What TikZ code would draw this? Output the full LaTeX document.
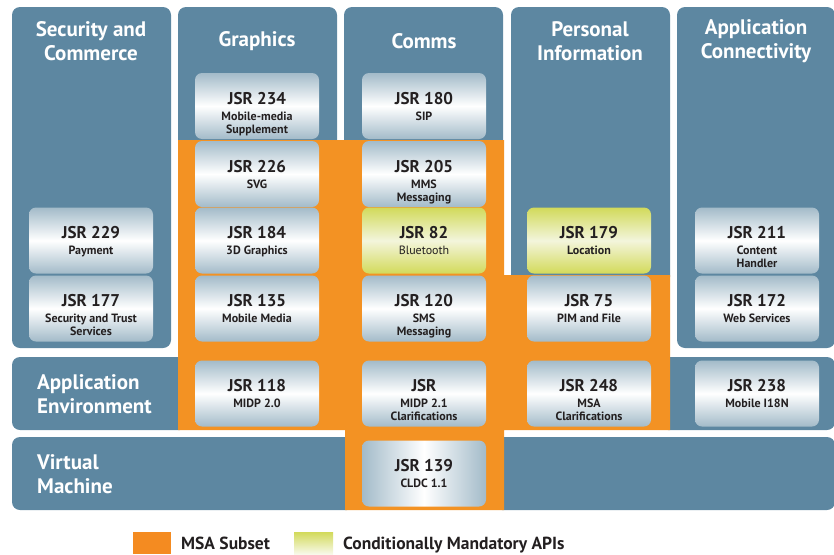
\documentclass[tikz,border=0pt]{standalone}
\usepackage{fontspec}
\setmainfont{PT Sans}
\usepackage{xcolor}
\usepackage{tikz}
\definecolor{stackblue}{HTML}{5D87A1}
\definecolor{msaorange}{HTML}{F39223}
\definecolor{silvr}{HTML}{A3BBC9}
\definecolor{lime}{HTML}{D2DA5A}
\definecolor{limelight}{HTML}{F3F5DC}
\definecolor{ink}{HTML}{231F20}

\begin{document}
\begin{tikzpicture}[x=1pt,y=-1pt,
  jsr/.style={rectangle,rounded corners=7,minimum width=124,minimum height=66,inner sep=0,
    top color=silvr,bottom color=silvr,middle color=white},
  cma/.style={jsr,top color=lime,bottom color=lime,middle color=limelight},
  txt/.style={anchor=north,align=center,inner sep=0,text=ink,
    font=\bfseries\fontsize{12}{13}\selectfont},
  title/.style={align=center,inner sep=0,text=white,font=\bfseries\fontsize{21}{24}\selectfont},
  legend/.style={anchor=base west,inner sep=0,text=ink,font=\bfseries\fontsize{17.5}{20}\selectfont}]
\useasboundingbox (0,0) rectangle (834,554);
% columns and layers
\fill[stackblue,rounded corners=8](12,7) rectangle (171,348);
\fill[stackblue,rounded corners=8](178,7) rectangle (337,150);
\fill[stackblue,rounded corners=8](344,7) rectangle (503,150);
\fill[stackblue,rounded corners=8](511,7) rectangle (670,285);
\fill[stackblue,rounded corners=8](677,7) rectangle (835,348);
\fill[stackblue,rounded corners=8](12,357) rectangle (188,430);
\fill[stackblue,rounded corners=8](660,357) rectangle (835,430);
\fill[stackblue,rounded corners=8](12,437) rectangle (355,510);
\fill[stackblue,rounded corners=8](494,437) rectangle (835,510);
% MSA subset
\fill[msaorange](178,140)--(504,140)--(504,275)--(670,275)--(670,430)--(504,430)
  --(504,510)--(345,510)--(345,430)--(178,430)--cycle;
% titles
\node[title] (sec) at (91,41) {Security and\\Commerce};
\node[title] (gfx) at (257,41) {Graphics};
\node[title] (com) at (424,41) {Comms};
\node[title] (pim) at (590,41) {Personal\\Information};
\node[title] (con) at (756,41) {Application\\Connectivity};
\node[title,anchor=west,align=left] (env) at (37,394) {Application\\Environment};
\node[title,anchor=west,align=left] (vm) at (37,474) {Virtual\\Machine};
% security and commerce
\node[jsr] (j229) at (91,240.5) {};
\node[txt] (t229) at ([yshift=-19pt]j229.north) {{\fontsize{17}{13}\selectfont JSR 229}\\[3pt]Payment};
\node[jsr] (j177) at (91,308.5) {};
\node[txt] (t177) at ([yshift=-19pt]j177.north) {{\fontsize{17}{13}\selectfont JSR 177}\\[3pt]Security and Trust\\Services};
% graphics
\node[jsr] (j234) at (257,106) {};
\node[txt] (t234) at ([yshift=-19pt]j234.north) {{\fontsize{17}{13}\selectfont JSR 234}\\[3pt]Mobile-media\\Supplement};
\node[jsr] (j226) at (257,174) {};
\node[txt] (t226) at ([yshift=-19pt]j226.north) {{\fontsize{17}{13}\selectfont JSR 226}\\[3pt]SVG};
\node[jsr] (j184) at (257,240.5) {};
\node[txt] (t184) at ([yshift=-19pt]j184.north) {{\fontsize{17}{13}\selectfont JSR 184}\\[3pt]3D Graphics};
\node[jsr] (j135) at (257,308.5) {};
\node[txt] (t135) at ([yshift=-19pt]j135.north) {{\fontsize{17}{13}\selectfont JSR 135}\\[3pt]Mobile Media};
\node[jsr] (j118) at (257,393.5) {};
\node[txt] (t118) at ([yshift=-19pt]j118.north) {{\fontsize{17}{13}\selectfont JSR 118}\\[3pt]MIDP 2.0};
% comms
\node[jsr] (j180) at (424,106) {};
\node[txt] (t180) at ([yshift=-19pt]j180.north) {{\fontsize{17}{13}\selectfont JSR 180}\\[3pt]SIP};
\node[jsr] (j205) at (424,174) {};
\node[txt] (t205) at ([yshift=-19pt]j205.north) {{\fontsize{17}{13}\selectfont JSR 205}\\[3pt]MMS\\Messaging};
\node[cma] (j82) at (424,240.5) {};
\node[txt,font=\fontsize{12}{13}\selectfont] (t82) at ([yshift=-19pt]j82.north) {{\bfseries\fontsize{17}{13}\selectfont JSR 82}\\[3pt]Bluetooth};
\node[jsr] (j120) at (424,308.5) {};
\node[txt] (t120) at ([yshift=-19pt]j120.north) {{\fontsize{17}{13}\selectfont JSR 120}\\[3pt]SMS\\Messaging};
\node[jsr] (jmidp) at (424,393.5) {};
\node[txt] (tmidp) at ([yshift=-19pt]jmidp.north) {{\fontsize{17}{13}\selectfont JSR}\\[3pt]MIDP 2.1\\Clarifications};
\node[jsr,left color=silvr,right color=silvr,middle color=white] (j139) at (424,473.5) {};
\node[txt] (t139) at ([yshift=-19pt]j139.north) {{\fontsize{17}{13}\selectfont JSR 139}\\[3pt]CLDC 1.1};
% personal information
\node[cma] (j179) at (589,240.5) {};
\node[txt] (t179) at ([yshift=-19pt]j179.north) {{\fontsize{17}{13}\selectfont JSR 179}\\[3pt]Location};
\node[jsr] (j75) at (589,308.5) {};
\node[txt] (t75) at ([yshift=-19pt]j75.north) {{\fontsize{17}{13}\selectfont JSR 75}\\[3pt]PIM and File};
\node[jsr] (j248) at (589,393.5) {};
\node[txt] (t248) at ([yshift=-19pt]j248.north) {{\fontsize{17}{13}\selectfont JSR 248}\\[3pt]MSA\\Clarifications};
% application connectivity
\node[jsr] (j211) at (757,240.5) {};
\node[txt] (t211) at ([yshift=-19pt]j211.north) {{\fontsize{17}{13}\selectfont JSR 211}\\[3pt]Content\\Handler};
\node[jsr] (j172) at (757,308.5) {};
\node[txt] (t172) at ([yshift=-19pt]j172.north) {{\fontsize{17}{13}\selectfont JSR 172}\\[3pt]Web Services};
\node[jsr] (j238) at (757,393.5) {};
\node[txt] (t238) at ([yshift=-19pt]j238.north) {{\fontsize{17}{13}\selectfont JSR 238}\\[3pt]Mobile I18N};
% legend
\fill[msaorange!95!red](133,532) rectangle (171,554);
\node[legend] (lmsa) at (181,549) {MSA Subset};
\shade[top color=lime,bottom color=limelight!60!white](294,532) rectangle (333,554);
\node[legend] (lcma) at (343,549) {Conditionally Mandatory APIs};
\end{tikzpicture}
\end{document}
